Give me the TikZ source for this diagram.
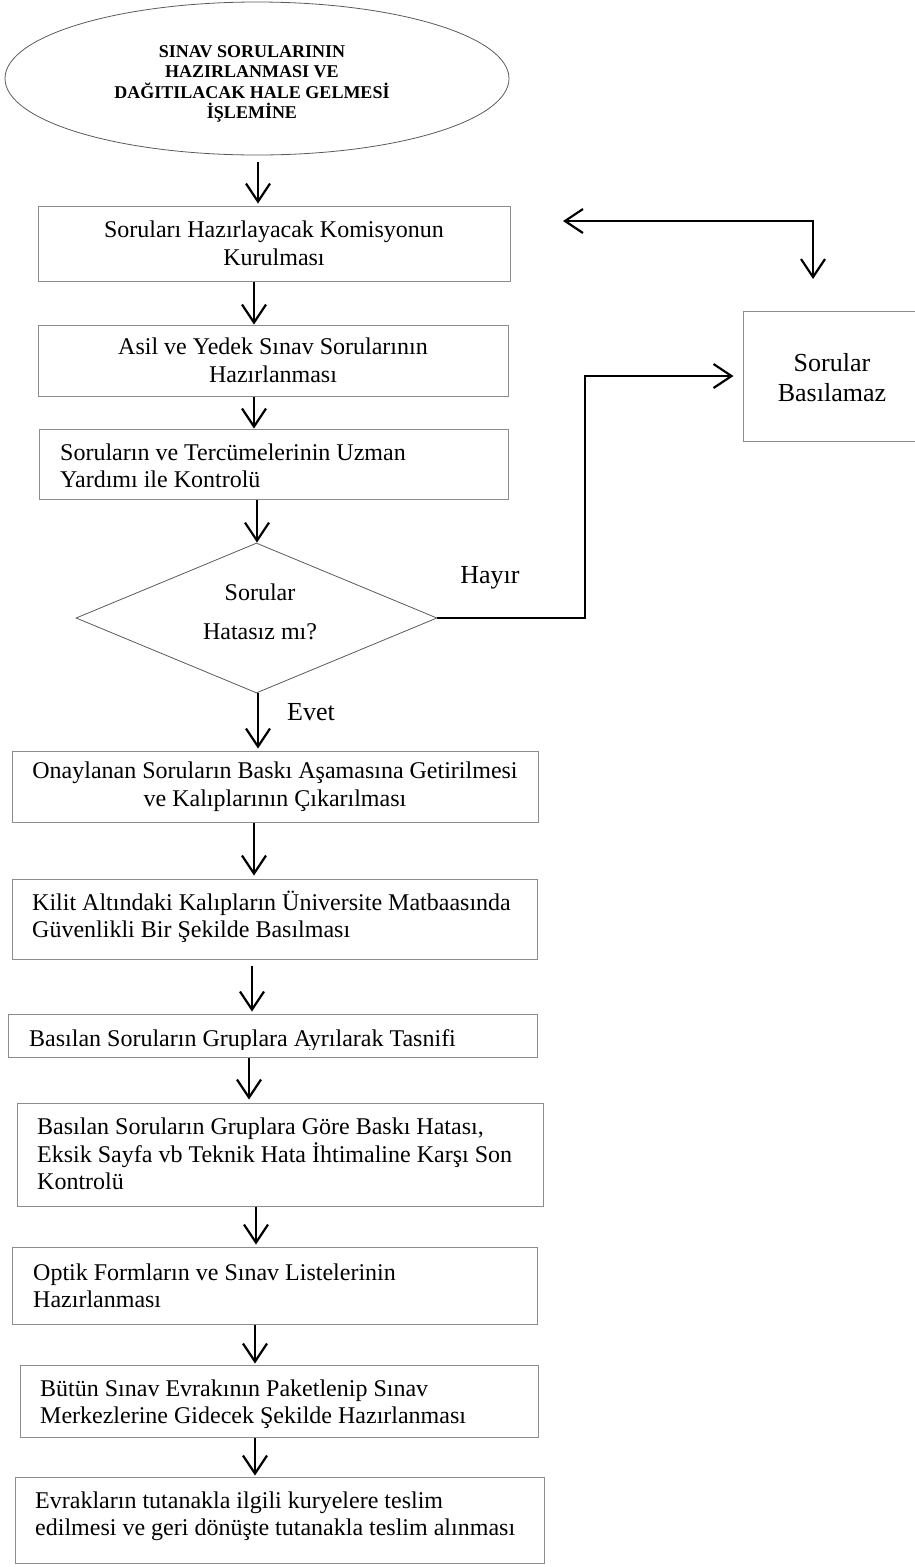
\documentclass[tikz,border=0pt]{standalone}
\usepackage{fontspec}
\setmainfont{Liberation Serif}
\usetikzlibrary{shapes.geometric,arrows.meta}
\definecolor{boxgray}{HTML}{8C8C8C}
\definecolor{shapegray}{HTML}{5A5A5A}
\begin{document}
\begin{tikzpicture}[x=1pt,y=-1pt,
  bx/.style={draw=boxgray, line width=1pt, inner sep=0pt},
  txt/.style={font=\fontsize{24}{27.5}\selectfont, inner sep=0pt},
  lbl/.style={font=\fontsize{26}{30}\selectfont, inner sep=0pt},
  arr/.style={line width=2.2pt, -{Straight Barb[length=18pt,width=24pt]}},
  arrboth/.style={line width=2.2pt, {Straight Barb[length=18pt,width=24pt]}-{Straight Barb[length=18pt,width=24pt]}}]
\useasboundingbox (0,0) rectangle (915,1567);

% start ellipse
\node[ellipse, draw=shapegray, line width=0.8pt, minimum width=504pt, minimum height=153pt, inner sep=0pt] (e) at (257,78.5) {};
\node[align=center, inner sep=0pt, font=\fontsize{18}{20.5}\selectfont\bfseries] (et) at (252,84)
  {SINAV SORULARININ\\HAZIRLANMASI VE\\DAĞITILACAK HALE GELMESİ\\İŞLEMİNE};

% process boxes
\node[bx, txt, align=center, minimum width=472pt, minimum height=75pt] (b1) at (274,243.5)
  {Soruları Hazırlayacak Komisyonun\\Kurulması};
\node[bx, txt, align=center, minimum width=470pt, minimum height=71pt] (b2) at (273,360.5)
  {Asil ve Yedek Sınav Sorularının\\Hazırlanması};
\node[bx, minimum width=469pt, minimum height=70pt] (b3) at (273.5,464) {};
\node[txt, align=left, anchor=west] (t3) at (60,466)
  {Soruların ve Tercümelerinin Uzman\\Yardımı ile Kontrolü};

% decision
\node[diamond, draw=shapegray, line width=0.8pt, minimum width=361pt, minimum height=150pt, inner sep=0pt] (d) at (256.5,618) {};
\node[align=center, inner sep=0pt, font=\fontsize{24}{39}\selectfont] (dt) at (260,612)
  {Sorular\\Hatasız mı?};

\node[bx, txt, align=center, minimum width=526pt, minimum height=71pt] (b4) at (275,786.5)
  {Onaylanan Soruların Baskı Aşamasına Getirilmesi\\ve Kalıplarının Çıkarılması};
\node[bx, minimum width=525pt, minimum height=80pt] (b5) at (274.5,919) {};
\node[txt, align=left, anchor=west] (t5) at (32,917)
  {Kilit Altındaki Kalıpların Üniversite Matbaasında\\Güvenlikli Bir Şekilde Basılması};
\node[bx, minimum width=529pt, minimum height=43pt] (b6) at (272.5,1035.5) {};
\begin{scope}
  \clip (0,1000) rectangle (915,1049);
  \node[txt, anchor=base west] (t6) at (29,1046) {Basılan Soruların Gruplara Ayrılarak Tasnifi};
\end{scope}
\node[bx, minimum width=526pt, minimum height=103pt] (b7) at (280,1154.5) {};
\node[txt, align=left, anchor=west] (t7) at (37,1154)
  {Basılan Soruların Gruplara Göre Baskı Hatası,\\Eksik Sayfa vb Teknik Hata İhtimaline Karşı Son\\Kontrolü};
\node[bx, minimum width=525pt, minimum height=77pt] (b8) at (274.5,1285.5) {};
\node[txt, align=left, anchor=west] (t8) at (33,1286)
  {Optik Formların ve Sınav Listelerinin\\Hazırlanması};
\node[bx, minimum width=518pt, minimum height=72pt] (b9) at (279,1401) {};
\node[txt, align=left, anchor=west] (t9) at (40,1404)
  {Bütün Sınav Evrakının Paketlenip Sınav\\Merkezlerine Gidecek Şekilde Hazırlanması};
\node[bx, minimum width=529pt, minimum height=86pt] (b10) at (279.5,1520) {};
\node[txt, align=left, anchor=west] (t10) at (35,1516)
  {Evrakların tutanakla ilgili kuryelere teslim\\edilmesi ve geri dönüşte tutanakla teslim alınması};

% right box (its right side runs off the page)
\node[bx, minimum width=200pt, minimum height=130pt] (sb) at (843,376) {};
\node[align=center, inner sep=0pt, font=\fontsize{26}{30}\selectfont] (sbt) at (832,378)
  {Sorular\\Basılamaz};

% labels
\node[lbl] (evet) at (311,712) {Evet};
\node[lbl] (hayir) at (490,578) {Hayır};

% column coordinates
\coordinate (c258) at (258,0);
\coordinate (c257) at (257,0);
\coordinate (c255) at (255,0);
\coordinate (c254) at (254,0);
\coordinate (c252) at (252,0);
\coordinate (c249) at (249,0);
\coordinate (c256) at (256,0);

% connectors
\draw[arr, shorten <=7pt, shorten >=2pt] (e.south -| c258) -- (b1.north -| c258);
\draw[arr] (b1.south -| c254) -- (b2.north -| c254);
\draw[arr] (b2.south -| c254) -- (b3.north -| c254);
\draw[arr] (b3.south -| c257) -- (d.north -| c257);
\draw[arr, shorten >=2pt] (d.south -| c258) -- (b4.north -| c258);
\draw[arr, shorten >=3pt] (b4.south -| c254) -- (b5.north -| c254);
\draw[arr, shorten <=6pt, shorten >=2pt] (b5.south -| c252) -- (b6.north -| c252);
\draw[arr, shorten >=3pt] (b6.south -| c249) -- (b7.north -| c249);
\draw[arr, shorten >=2pt] (b7.south -| c256) -- (b8.north -| c256);
\draw[arr, shorten >=1pt] (b8.south -| c255) -- (b9.north -| c255);
\draw[arr, shorten >=1pt] (b9.south -| c255) -- (b10.north -| c255);

% Hayir branch
\coordinate (h1) at (585,376);
\draw[arr, shorten >=9pt] (d.east) -| (h1) -- (sb.west);

% return arrows at the top right
\coordinate (r1) at (563,221);
\coordinate (r2) at (813,221);
\coordinate (r3) at (813,279);
\draw[arrboth] (r1) -- (r2) -- (r3);
\end{tikzpicture}
\end{document}
